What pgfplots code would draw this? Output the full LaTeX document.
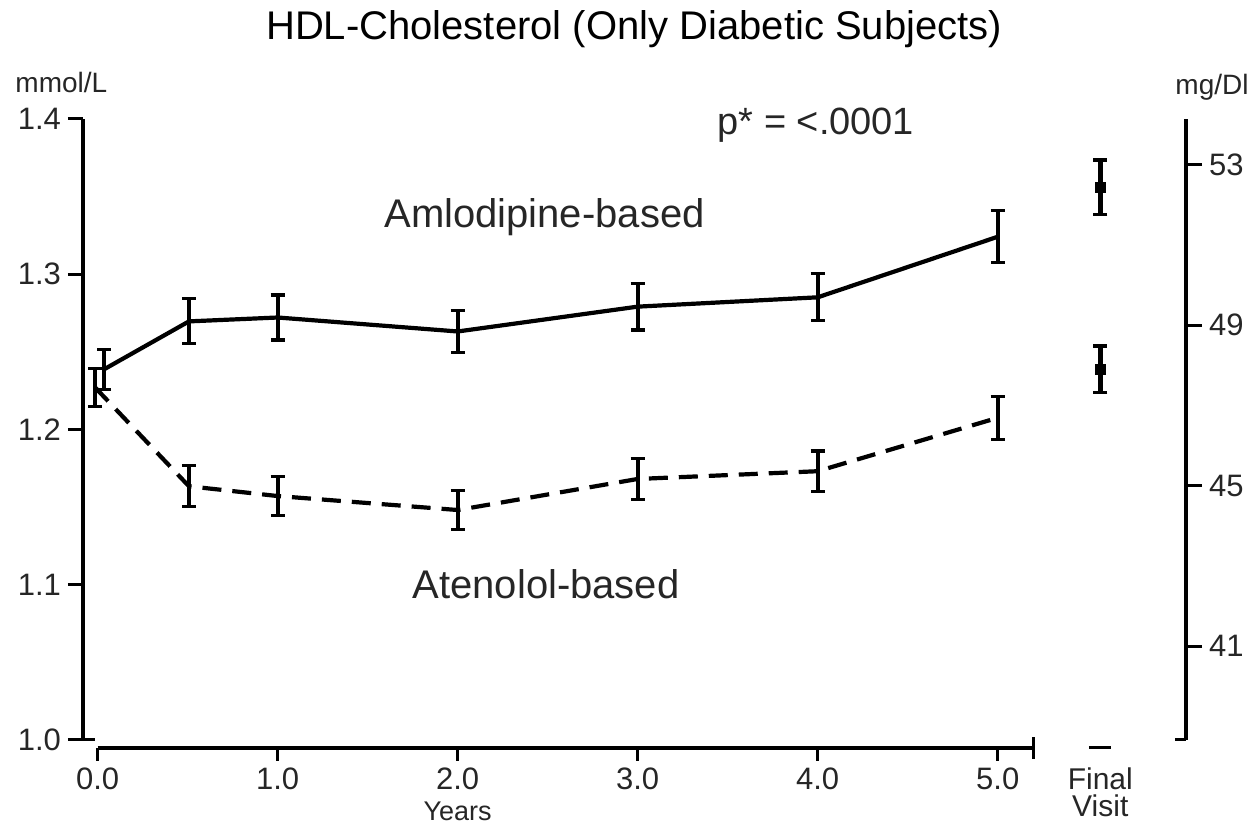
\documentclass[border=0pt]{standalone}
\usepackage{fontspec}
\setmainfont{Liberation Sans}
\usepackage{pgfplots}
\usepackage{pgfplotstable}
\pgfplotsset{compat=1.18}

\pgfplotstableread{
x      y       e
0.035  1.2386  0.0129
0.507  1.2695  0.0145
1.000  1.2720  0.0145
2.000  1.2630  0.0135
3.000  1.2790  0.0151
4.000  1.2850  0.0151
5.000  1.3240  0.0167
}\amlo

\pgfplotstableread{
x      y       e
-0.015 1.2270  0.0122
0.507  1.1633  0.0132
1.000  1.1570  0.0125
2.000  1.1480  0.0125
3.000  1.1680  0.0130
4.000  1.1730  0.0130
5.000  1.2074  0.0138
}\aten

\pgfplotstableread{
x     y       e
5.57  1.3560  0.0174
}\amlofinal

\pgfplotstableread{
x     y       e
5.57  1.2386  0.0151
}\atenfinal

\pgfplotsset{
  ebar/.style={error bars/.cd, y dir=both, y explicit,
    error bar style={line width=2.2pt, solid, black},
    error mark options={rotate=90, line width=1.6pt, mark size=3.5pt, solid, black}},
}

\begin{document}
\begin{tikzpicture}
% ---------- main axis (mmol/L) ----------
\begin{axis}[
  scale only axis, width=551.5pt, height=310.5pt,
  xmin=-0.082, xmax=6.046, ymin=1.0, ymax=1.4,
  axis x line=none, axis y line*=left,
  axis line style={line width=2pt, -},
  xtick=\empty,
  ytick={1.0,1.1,1.2,1.3,1.4},
  tick align=outside, major tick length=7.5pt,
  tick style={line width=1.5pt, black},
  /pgf/number format/assume math mode=true,
  yticklabel style={/pgf/number format/fixed, /pgf/number format/fixed zerofill,
    /pgf/number format/precision=1, font=\fontsize{15.5}{18}\selectfont, text=black!85},
  clip=false,
]
\path (axis cs:-0.5428,0.9453) rectangle (axis cs:6.446,1.4765);
\draw[line width=1.5pt] (axis cs:-0.082,1.0) -- (axis cs:-0.015,1.0);

\addplot[black, line width=2.1pt, ebar] table[x=x, y=y, y error=e] {\amlo};
\addplot[black, line width=2.1pt, dash pattern=on 9.5pt off 5.5pt, ebar] table[x=x, y=y, y error=e] {\aten};
\addplot[black, only marks, mark=square*, mark size=2.5pt, ebar] table[x=x, y=y, y error=e] {\amlofinal};
\addplot[black, only marks, mark=square*, mark size=2.5pt, ebar] table[x=x, y=y, y error=e] {\atenfinal};

\node[anchor=base, font=\fontsize{20}{24}\selectfont] at (axis cs:2.98,1.4508) {HDL-Cholesterol (Only Diabetic Subjects)};
\node[anchor=base, font=\fontsize{20}{24}\selectfont, text=black!85] at (axis cs:2.482,1.3299) {Amlodipine-based};
\node[anchor=base, font=\fontsize{20}{24}\selectfont, text=black!85] at (axis cs:2.491,1.0913) {Atenolol-based};
\node[anchor=base, font=\fontsize{19}{24}\selectfont, text=black!85] at (axis cs:3.99,1.3897) {p* = <.0001};
\node[anchor=base west, inner sep=0pt, font=\fontsize{14}{17}\selectfont, text=black!85] at (axis cs:-0.459,1.4167) {mmol/L};
\node[anchor=base west, inner sep=0pt, font=\fontsize{14}{17}\selectfont, text=black!85] at (axis cs:5.985,1.4154) {mg/Dl};
\end{axis}

% ---------- right axis (mg/dL) ----------
\begin{axis}[
  scale only axis, width=551.5pt, height=310.5pt,
  xmin=-0.082, xmax=6.046, ymin=38.67, ymax=54.138,
  axis x line=none, axis y line*=right,
  axis line style={line width=1.75pt, -},
  xtick=\empty,
  ytick={41,45,49,53},
  tick align=outside, major tick length=8pt,
  tick style={line width=1.5pt, black},
  /pgf/number format/assume math mode=true,
  yticklabel style={font=\fontsize{15.5}{18}\selectfont, text=black!85},
  clip=false,
]
\draw[line width=1.5pt] (axis cs:5.985,38.67) -- (axis cs:6.046,38.67);
\end{axis}

% ---------- x axis (Years) ----------
\begin{axis}[
  at={(7.35pt,-4pt)}, anchor=south west,
  scale only axis, width=468pt, height=10pt,
  xmin=0, xmax=5.2, ymin=0, ymax=1,
  axis y line=none, axis x line*=bottom,
  axis line style={line width=1.75pt, -},
  ytick=\empty,
  xtick={0,1,2,3,4,5},
  extra x ticks={5.2}, extra x tick labels={},
  extra x tick style={tick align=center, major tick length=11pt},
  tick align=outside, major tick length=6.5pt,
  tick style={line width=1.5pt, black},
  /pgf/number format/assume math mode=true,
  xticklabel style={/pgf/number format/fixed, /pgf/number format/fixed zerofill,
    /pgf/number format/precision=1, font=\fontsize{15.5}{18}\selectfont, text=black!85},
  clip=false,
]
\draw[line width=1.5pt] (axis cs:5.507,0) -- (axis cs:5.629,0);
\node[anchor=center, font=\fontsize{13.5}{16}\selectfont, text=black!85] at ([yshift=-32pt]axis cs:2.0,0) {Years};
\node[anchor=north, align=center, inner sep=0pt, font=\fontsize{15}{13.5}\selectfont, text=black!85] at ([yshift=-10pt]axis cs:5.57,0) {Final\\Visit};
\end{axis}
\end{tikzpicture}
\end{document}
